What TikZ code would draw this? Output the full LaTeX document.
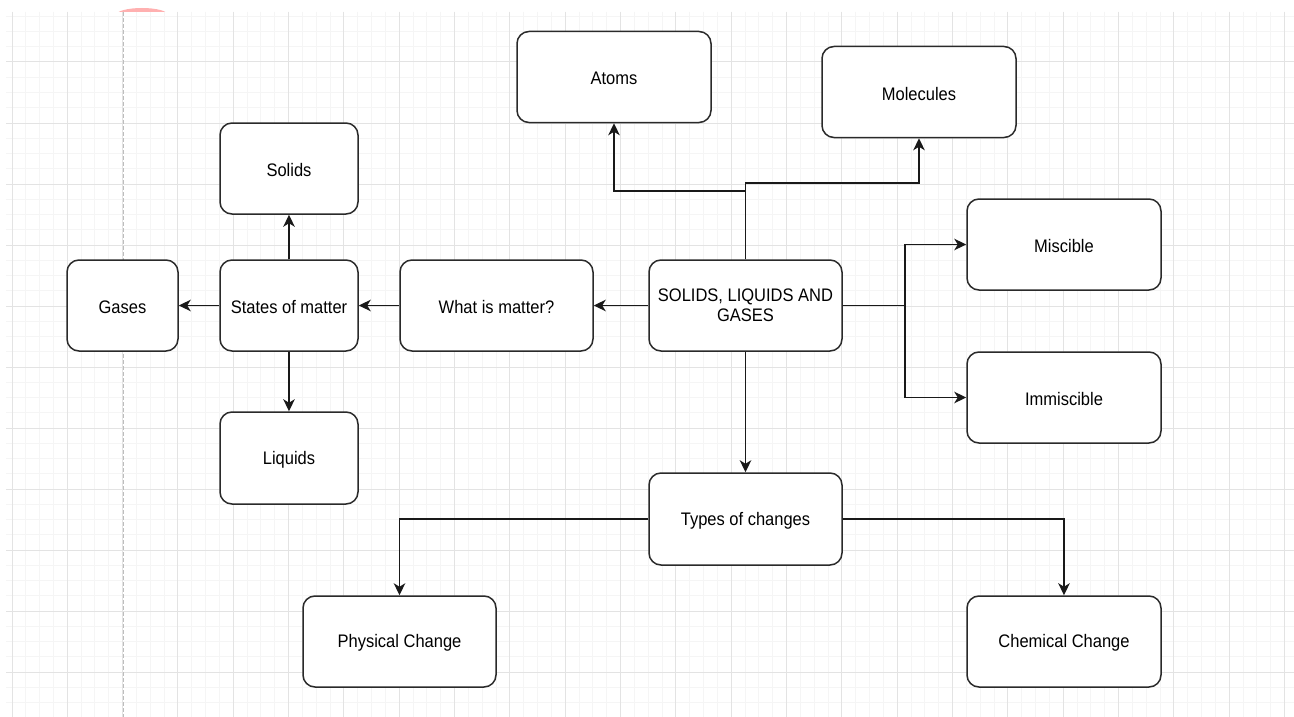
\documentclass[tikz,border=0pt]{standalone}
\usepackage{fontspec}
\setmainfont{Liberation Sans}
\usepackage{graphicx}
\usetikzlibrary{arrows.meta,calc}
\definecolor{gridminor}{HTML}{F5F5F5}
\definecolor{gridmajor}{HTML}{E3E3E3}
\definecolor{dashgray}{HTML}{BDBDBD}
\definecolor{boxline}{HTML}{2A2A2A}
\definecolor{pinkarc}{HTML}{FFB0B0}
\newcommand{\mytxt}[1]{\raisebox{-1.8pt}[\height][\depth]{\scalebox{1}[1.1]{#1}}}
\begin{document}
\begin{tikzpicture}[x=1pt,y=-1pt,
  box/.style={draw=boxline,line width=1.5pt,rounded corners=12pt,fill=white,
    minimum width=194pt,minimum height=91pt,inner sep=0pt,
    font=\fontsize{16.5}{19}\selectfont,text=black,align=center},
  small/.style={box,minimum width=138pt},
  arr/.style={draw=black!90,line width=1.6pt,-{Stealth[length=12pt,width=11.5pt,inset=3.5pt]}},
  ln/.style={draw=black!90,line width=1.6pt}]
\useasboundingbox (0,0) rectangle (1294,717);
\fill[white] (0,0) rectangle (1294,717);
% pink arc at top
\begin{scope}
  \clip (0,0) rectangle (1294,12);
  \fill[pinkarc] (142,15) ellipse (26pt and 7pt);
\end{scope}
% grid
\foreach \i in {0,...,92} {
  \pgfmathsetmacro{\gx}{12+13.833*\i}
  \draw[gridminor,line width=1pt] (\gx,12) -- (\gx,717);
}
\foreach \j in {1,...,46} {
  \pgfmathsetmacro{\gy}{1+15.25*\j}
  \draw[gridminor,line width=1pt] (6,\gy) -- (1294,\gy);
}
\foreach \i in {0,...,23} {
  \pgfmathsetmacro{\gx}{12+55.33*\i}
  \draw[gridmajor,line width=1pt] (\gx,12) -- (\gx,717);
}
\foreach \j in {1,...,11} {
  \pgfmathsetmacro{\gy}{1+61*\j}
  \draw[gridmajor,line width=1pt] (6,\gy) -- (1294,\gy);
}
\draw[dashgray,line width=1pt,dash pattern=on 4pt off 2pt] (123,12) -- (123,717);
% nodes
\node[box] (atoms) at (614,77) {\mytxt{Atoms}};
\node[box] (molecules) at (919,92) {\mytxt{Molecules}};
\node[small] (solids) at (289,168.5) {\mytxt{Solids}};
\node[box,minimum width=111pt] (gases) at (122.5,305.5) {\mytxt{Gases}};
\node[small] (states) at (289,305.5) {\mytxt{States of matter}};
\node[box,minimum width=193pt] (what) at (496.5,305.5) {\mytxt{What is matter?}};
\node[box,minimum width=193pt] (slg) at (745.5,305.5) {\mytxt{\begin{tabular}{@{}c@{}}SOLIDS, LIQUIDS AND\\GASES\end{tabular}}};
\node[box] (miscible) at (1064,244.5) {\mytxt{Miscible}};
\node[box] (immiscible) at (1064,397.5) {\mytxt{Immiscible}};
\node[small,minimum height=92pt] (liquids) at (289,458) {\mytxt{Liquids}};
\node[box,minimum width=193pt,minimum height=92pt] (types) at (745.5,519) {\mytxt{Types of changes}};
\node[box,minimum width=193pt] (physical) at (399.5,641.5) {\mytxt{Physical Change}};
\node[box] (chemical) at (1064,641.5) {\mytxt{Chemical Change}};
% connectors
\draw[arr] (slg.north) -- (slg.north |- 0,191) -| (atoms.south);
\draw[arr] (slg.north) -- (slg.north |- 0,183) -| (molecules.south);
\coordinate (split) at ($(slg.east)+(62,0)$);
\draw[arr] (slg.east) -- (split) |- (miscible.west);
\draw[arr] (split) |- (immiscible.west);
\draw[arr] (slg.west) -- (what.east);
\draw[arr] (slg.south) -- (types.north);
\draw[arr] (what.west) -- (states.east);
\draw[arr] (states.north) -- (solids.south);
\draw[arr] (states.west) -- (gases.east);
\draw[arr] (states.south) -- (liquids.north);
\draw[arr] (types.west) -| (physical.north);
\draw[arr] (types.east) -| (chemical.north);
\end{tikzpicture}
\end{document}
